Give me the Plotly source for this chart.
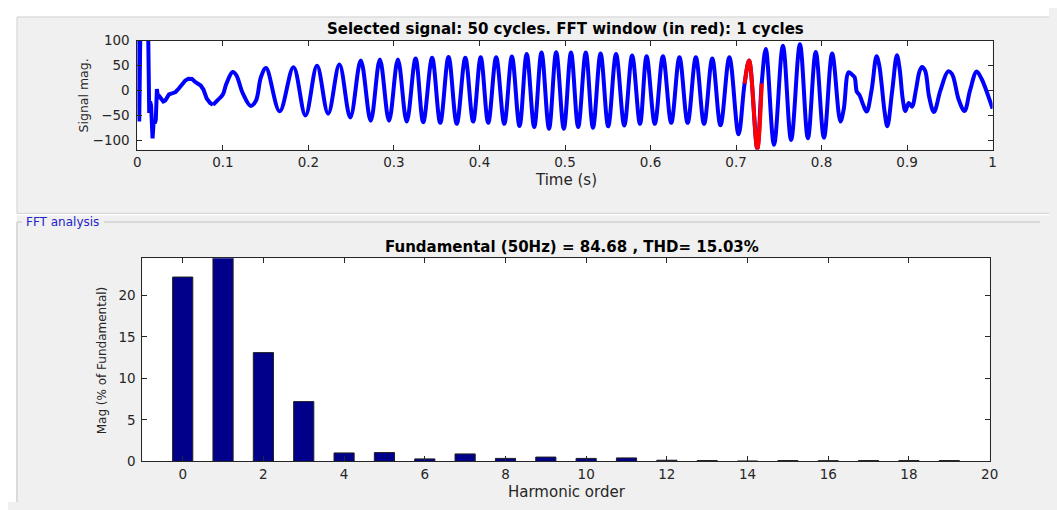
import plotly.graph_objects as go

# window size and the page's default 8px body margin
WIN_W, WIN_H = 1057, 510
OFF = 8
W, H = WIN_W - 2 * OFF, WIN_H - 2 * OFF

# ---------------- data ----------------
# start-up transient of the selected signal (s, magnitude)
t_transient = [0.0, 0.0006, 0.0021, 0.0035, 0.0125, 0.0138, 0.0148, 0.0160, 0.0177, 0.0190,
               0.0204, 0.0215, 0.0228, 0.0240, 0.0258, 0.0285, 0.0303, 0.0326, 0.0369, 0.0403,
               0.0446, 0.0484, 0.0522, 0.0560, 0.0596, 0.0638, 0.0676, 0.0711, 0.0740, 0.0772,
               0.0810, 0.0850, 0.0884]
v_transient = [0, 130, -62, 130, 130, -45, -22, -30, -96, -62,
               -66, -58, 3, -14, -12, -17, -22, -20, -8, -6,
               -3, 4, 13, 20, 23.6, 23, 17, 14, 10, 2,
               -16, -25, -29]

# oscillating part of the signal: peaks, troughs and shape points (s, magnitude)
t_wave = [0.0884, 0.0941, 0.0999, 0.1041, 0.1114, 0.1156, 0.1233, 0.1325, 0.1387, 0.1444,
          0.1504, 0.1663, 0.1825, 0.1965, 0.2100, 0.2230, 0.2362, 0.2489, 0.2612, 0.2728,
          0.2835, 0.2942, 0.3046, 0.3149, 0.3253, 0.3342, 0.3446, 0.3541, 0.3638, 0.3734,
          0.3834, 0.3926, 0.4014, 0.4102, 0.4195, 0.4290, 0.4379, 0.4468, 0.4552, 0.4640,
          0.4725, 0.4813, 0.4897, 0.4986, 0.5070, 0.5154, 0.5243, 0.5327, 0.5416, 0.5505,
          0.5597, 0.5693, 0.5785, 0.5877, 0.5954, 0.6050, 0.6145, 0.6242, 0.6338, 0.6434,
          0.6530, 0.6626, 0.6722, 0.6818, 0.6922, 0.7029, 0.7100, 0.7153, 0.7248, 0.7300,
          0.7348, 0.7444, 0.7548, 0.7644, 0.7747, 0.7840, 0.7932, 0.8028, 0.8124, 0.8220,
          0.8259, 0.8316, 0.8355, 0.8386, 0.8412, 0.8443, 0.8481, 0.8527, 0.8585, 0.8643,
          0.8673, 0.8700, 0.8738, 0.8769, 0.8827, 0.8881, 0.8911, 0.8950, 0.8980, 0.9019,
          0.9057, 0.9103, 0.9142, 0.9173, 0.9211, 0.9257, 0.9314, 0.9391, 0.9480, 0.9526,
          0.9603, 0.9671, 0.9737, 0.9814, 0.9872, 0.9910, 1.0000]
v_wave = [-29, -19, -8, 14, 37, 31, -6, -31, -20, 26.7,
          45, -41.8, 46.7, -50, 49.5, -46.5, 52, -54, 60, -60.5,
          62, -60.5, 62, -62.4, 64, -63.7, 65.5, -65, 67.4, -67,
          65.5, -62.4, 66.7, -65, 66.7, -67, 68, -71.5, 73.2, -73.4,
          76.4, -76.7, 77, -76.7, 76.4, -73.4, 76.4, -74.7, 74.4, -72,
          73.2, -70.2, 70, -67, 68.6, -67, 68.6, -65, 66.7, -65,
          66.7, -67, 64, -70, 66.7, -88, 14, 60, -117, 14,
          83.5, -109, 90, -99.3, 92.6, -96, 77.5, -94.8, 74, -62,
          -38, 36.4, 32, 26.7, -2.3, -8.9, -26, -42.4, 0.8, 68.6,
          52, 16, -44, -72, 0.8, 70.6, 46, -18, -41.3, -25,
          -32.6, 0.8, 36.4, 47.3, 40, -12, -43, 0.8, 38.3, 33,
          -18, -41.3, 0.8, 38.3, 23, 7.4, -36.6]

# FFT window (1 cycle, drawn in red)
t_window = [0.7100, 0.7153, 0.7248, 0.7300]
v_window = [14, 60, -117, 14]

time_ticks = [0, 0.1, 0.2, 0.3, 0.4, 0.5, 0.6, 0.7, 0.8, 0.9, 1.0]
time_tick_labels = ["0", "0.1", "0.2", "0.3", "0.4", "0.5", "0.6", "0.7", "0.8", "0.9", "1"]
signal_ticks = [-100, -50, 0, 50, 100]

harmonic_order = list(range(20))
harmonic_mag = [22.2, 100, 13.1, 7.2, 1.02, 1.06, 0.3, 0.9, 0.36, 0.52,
                0.36, 0.42, 0.14, 0.1, 0.05, 0.1, 0.09, 0.1, 0.1, 0.1]
order_ticks = list(range(0, 21, 2))
mag_ticks = [0, 5, 10, 15, 20]

# ---------------- figure ----------------
FONT = "DejaVu Sans"
AX = "#262626"
PANEL = "#f0f0f0"
EDGE = "#d2d2d2"


def fx(px):
    """window pixel x -> paper fraction"""
    return (px - OFF) / W


def fy(py):
    """window pixel y -> paper fraction"""
    return 1 - (py - OFF) / H


fig = go.Figure()

fig.add_trace(go.Scatter(x=t_transient, y=v_transient, mode="lines",
                         line=dict(color="#0000ff", width=4),
                         xaxis="x", yaxis="y", showlegend=False, hoverinfo="skip"))
fig.add_trace(go.Scatter(x=t_wave, y=v_wave, mode="lines",
                         line=dict(color="#0000ff", width=4, shape="spline", smoothing=1.0),
                         xaxis="x", yaxis="y", showlegend=False, hoverinfo="skip"))
fig.add_trace(go.Scatter(x=t_window, y=v_window, mode="lines",
                         line=dict(color="#ff0000", width=4, shape="spline", smoothing=1.0),
                         xaxis="x", yaxis="y", showlegend=False, hoverinfo="skip"))

fig.add_trace(go.Bar(x=harmonic_order, y=harmonic_mag, width=0.5,
                     marker=dict(color="#00008b", line=dict(color="#202020", width=1)),
                     xaxis="x2", yaxis="y2", showlegend=False, hoverinfo="skip"))

axis_common = dict(showline=True, linecolor=AX, linewidth=1, mirror="allticks",
                   ticks="inside", ticklen=5, tickcolor=AX, tickwidth=1,
                   showgrid=False, zeroline=False,
                   tickfont=dict(family=FONT, size=13.5, color=AX))

top_x = (135, 1001)
top_y = (33.5, 146)
bot_x = (140, 998)
bot_y = (258.3, 468.3)

fig.update_layout(
    width=W, height=H,
    margin=dict(l=0, r=0, t=0, b=0),
    paper_bgcolor="white",
    plot_bgcolor="white",
    xaxis=dict(axis_common, domain=[fx(top_x[0]), fx(top_x[1])], range=[0, 1],
               tickvals=time_ticks, ticktext=time_tick_labels, anchor="y"),
    yaxis=dict(axis_common, domain=[fy(top_y[1]), fy(top_y[0])], range=[-118.5, 100],
               tickvals=signal_ticks, anchor="x", ticklabelstandoff=4),
    xaxis2=dict(axis_common, domain=[fx(bot_x[0]), fx(bot_x[1])], range=[-1, 20],
                tickvals=order_ticks, anchor="y2"),
    yaxis2=dict(axis_common, domain=[fy(bot_y[1]), fy(bot_y[0])], range=[0, 24.47],
                tickvals=mag_ticks, anchor="x2", ticklabelstandoff=3),
)

shapes = [
    # top panel
    dict(type="rect", xref="paper", yref="paper", x0=fx(13), x1=1.02, y0=fy(212), y1=fy(9),
         fillcolor=PANEL, line=dict(color=EDGE, width=1), layer="below"),
    # bottom (FFT analysis) panel
    dict(type="rect", xref="paper", yref="paper", x0=fx(13), x1=1.02, y0=-0.02, y1=fy(214),
         fillcolor=PANEL, line=dict(width=0), layer="below"),
    # group box frame
    dict(type="line", xref="paper", yref="paper", x0=fx(13), x1=fx(18), y0=fy(221), y1=fy(221),
         line=dict(color=EDGE, width=1.5), layer="below"),
    dict(type="line", xref="paper", yref="paper", x0=fx(101), x1=1.0, y0=fy(221), y1=fy(221),
         line=dict(color=EDGE, width=1.5), layer="below"),
    dict(type="line", xref="paper", yref="paper", x0=fx(13), x1=fx(13), y0=-0.02, y1=fy(221),
         line=dict(color=EDGE, width=1.5), layer="below"),
    # white plot areas
    dict(type="rect", xref="paper", yref="paper", x0=fx(top_x[0]), x1=fx(top_x[1]),
         y0=fy(top_y[1]), y1=fy(top_y[0]), fillcolor="white", line=dict(width=0), layer="below"),
    dict(type="rect", xref="paper", yref="paper", x0=fx(bot_x[0]), x1=fx(bot_x[1]),
         y0=fy(bot_y[1]), y1=fy(bot_y[0]), fillcolor="white", line=dict(width=0), layer="below"),
]
fig.update_layout(shapes=shapes)


def label(text, px, py, size=13, angle=0, color="#000000", xanchor="center", bold=False):
    return dict(text=f"<b>{text}</b>" if bold else text, xref="paper", yref="paper",
                x=fx(px), y=fy(py), xanchor=xanchor, yanchor="middle", showarrow=False,
                textangle=angle, font=dict(family=FONT, size=size, color=color))


fig.update_layout(annotations=[
    label("Selected signal: 50 cycles. FFT window (in red): 1 cycles", 568, 21, size=15, bold=True),
    label("Signal mag.", 80, 90, size=12.5, angle=-90, color=AX),
    label("Time (s)", 569, 178, size=15, color=AX),
    label("FFT analysis", 20, 221, size=12, color="#2323c8", xanchor="left"),
    label("Fundamental (50Hz) = 84.68 , THD= 15.03%", 575, 247, size=15, bold=True),
    label("Mag (% of Fundamental)", 100, 364, size=12, angle=-90, color=AX),
    label("Harmonic order", 570, 500, size=15, color=AX),
])

# the window margin around the figure: white on the top/left, panel grey on the right/bottom
post = (
    "document.body.style.background="
    "'linear-gradient(to right, #ffffff %dpx, rgba(0,0,0,0) %dpx), "
    "linear-gradient(to bottom, #ffffff %dpx, %s %dpx)';"
    "document.body.style.minHeight='%dpx';" % (OFF, OFF, OFF, PANEL, OFF, WIN_H - 2 * OFF)
)

fig.write_html("out.html", post_script=post, config={"displayModeBar": False})
